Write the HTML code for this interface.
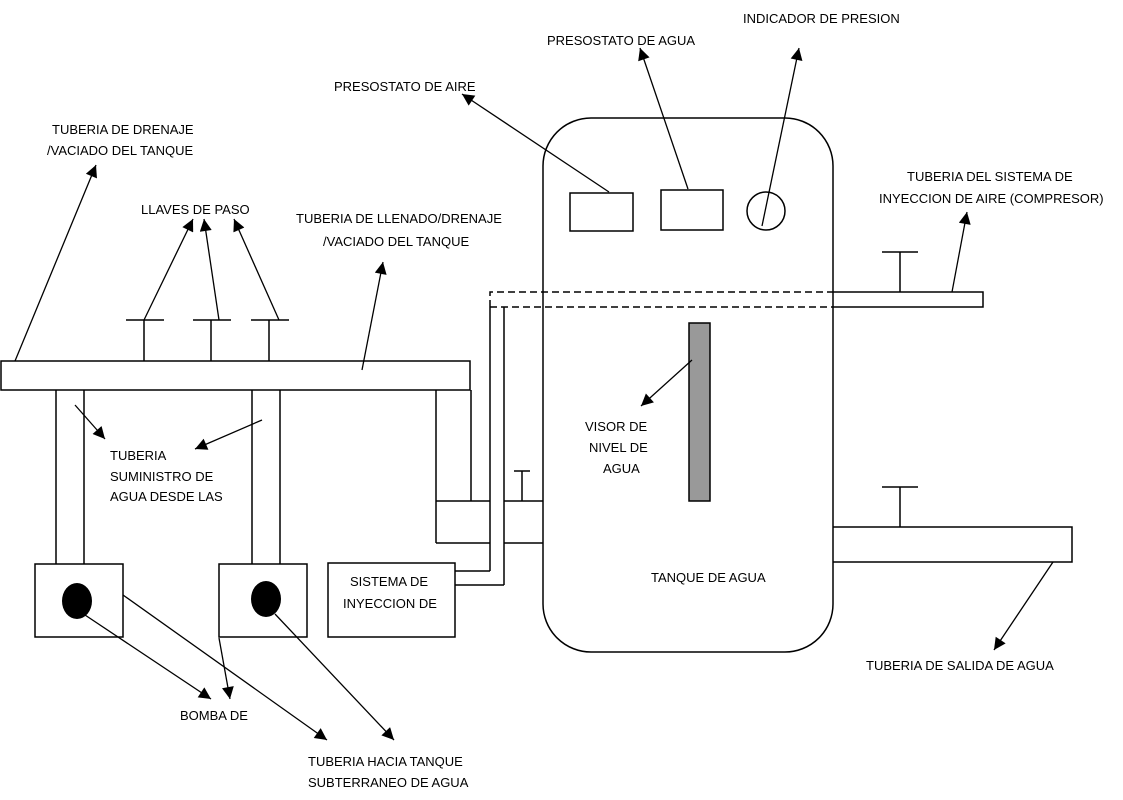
<!DOCTYPE html>
<html><head><meta charset="utf-8"><style>
html,body{margin:0;padding:0;background:#fff;}
svg{display:block}
text{font-family:"Liberation Sans",sans-serif;font-size:13px;fill:#000}
</style></head><body>
<svg width="1123" height="800" viewBox="0 0 1123 800" xmlns="http://www.w3.org/2000/svg">
<defs>
<marker id="a" viewBox="0 0 10 10" refX="10" refY="5" markerWidth="14" markerHeight="12" markerUnits="userSpaceOnUse" orient="auto"><path d="M0,0 L10,5 L0,10 z" fill="#000"/></marker>
</defs>
<g fill="none" stroke="#000" stroke-width="1.5">
<rect x="543" y="118" width="290" height="534" rx="48" fill="#fff"/>
<rect x="1" y="361" width="469" height="29"/>
<line x1="56" y1="390" x2="56" y2="564"/><line x1="84" y1="390" x2="84" y2="564"/>
<line x1="252" y1="390" x2="252" y2="564"/><line x1="280" y1="390" x2="280" y2="564"/>
<line x1="144" y1="320" x2="144" y2="361"/><line x1="126" y1="320" x2="164" y2="320"/>
<line x1="211" y1="320" x2="211" y2="361"/><line x1="193" y1="320" x2="231" y2="320"/>
<line x1="269" y1="320" x2="269" y2="361"/><line x1="251" y1="320" x2="289" y2="320"/>
<rect x="35" y="564" width="88" height="73"/>
<rect x="219" y="564" width="88" height="73"/>
<line x1="436" y1="390" x2="436" y2="543"/><line x1="471" y1="390" x2="471" y2="501"/>
<line x1="436" y1="501" x2="490" y2="501"/><line x1="436" y1="543" x2="490" y2="543"/>
<line x1="504" y1="501" x2="543" y2="501"/><line x1="504" y1="543" x2="543" y2="543"/>
<line x1="522" y1="471" x2="522" y2="501"/><line x1="514" y1="471" x2="530" y2="471"/>
<line x1="490" y1="307" x2="490" y2="571"/><line x1="504" y1="307" x2="504" y2="585"/>
<line x1="455" y1="571" x2="490" y2="571"/><line x1="455" y1="585" x2="504" y2="585"/>
<rect x="328" y="563" width="127" height="74"/>
<path d="M490,307 L490,292 L833,292 M490,307 L833,307" stroke-dasharray="7,4"/>
<path d="M833,292 L983,292 L983,307 L833,307"/>
<line x1="900" y1="252" x2="900" y2="292"/><line x1="882" y1="252" x2="918" y2="252"/>
<path d="M833,527 L1072,527 L1072,562 L833,562"/>
<line x1="900" y1="487" x2="900" y2="527"/><line x1="882" y1="487" x2="918" y2="487"/>
<rect x="570" y="193" width="63" height="38"/>
<rect x="661" y="190" width="62" height="40"/>
<circle cx="766" cy="211" r="19"/>
</g>
<rect x="689" y="323" width="21" height="178" fill="#999" stroke="#000" stroke-width="1.5"/>
<ellipse cx="77" cy="601" rx="15" ry="18" fill="#000"/>
<ellipse cx="266" cy="599" rx="15" ry="18" fill="#000"/>
<g stroke="#000" stroke-width="1.3" marker-end="url(#a)">
<line x1="609" y1="192" x2="462" y2="94"/>
<line x1="688" y1="189" x2="640" y2="48"/>
<line x1="762" y1="226" x2="799" y2="48"/>
<line x1="15" y1="361" x2="96" y2="165"/>
<line x1="144" y1="320" x2="193" y2="219"/>
<line x1="219" y1="320" x2="204" y2="219"/>
<line x1="279" y1="320" x2="234" y2="219"/>
<line x1="362" y1="370" x2="383" y2="262"/>
<line x1="75" y1="405" x2="105" y2="439"/>
<line x1="262" y1="420" x2="195" y2="449"/>
<line x1="692" y1="360" x2="641" y2="406"/>
<line x1="952" y1="292" x2="967" y2="212"/>
<line x1="1053" y1="562" x2="994" y2="650"/>
<line x1="85" y1="615" x2="211" y2="699"/>
<line x1="219" y1="638" x2="230" y2="699"/>
<line x1="123" y1="595" x2="327" y2="740"/>
<line x1="275" y1="614" x2="394" y2="740"/>
</g>
<text x="743" y="23">INDICADOR DE PRESION</text>
<text x="547" y="45">PRESOSTATO DE AGUA</text>
<text x="334" y="91">PRESOSTATO DE AIRE</text>
<text x="52" y="134">TUBERIA DE DRENAJE</text>
<text x="47" y="155">/VACIADO DEL TANQUE</text>
<text x="141" y="214">LLAVES DE PASO</text>
<text x="296" y="223">TUBERIA DE LLENADO/DRENAJE</text>
<text x="323" y="246">/VACIADO DEL TANQUE</text>
<text x="907" y="181">TUBERIA DEL SISTEMA DE</text>
<text x="879" y="203">INYECCION DE AIRE (COMPRESOR)</text>
<text x="110" y="460">TUBERIA</text>
<text x="110" y="481">SUMINISTRO DE</text>
<text x="110" y="501">AGUA DESDE LAS</text>
<text x="585" y="431">VISOR DE</text>
<text x="589" y="452">NIVEL DE</text>
<text x="603" y="473">AGUA</text>
<text x="651" y="582">TANQUE DE AGUA</text>
<text x="350" y="586">SISTEMA DE</text>
<text x="343" y="608">INYECCION DE</text>
<text x="866" y="670">TUBERIA DE SALIDA DE AGUA</text>
<text x="180" y="720">BOMBA DE</text>
<text x="308" y="766">TUBERIA HACIA TANQUE</text>
<text x="308" y="787">SUBTERRANEO DE AGUA</text>
</svg>
</body></html>
